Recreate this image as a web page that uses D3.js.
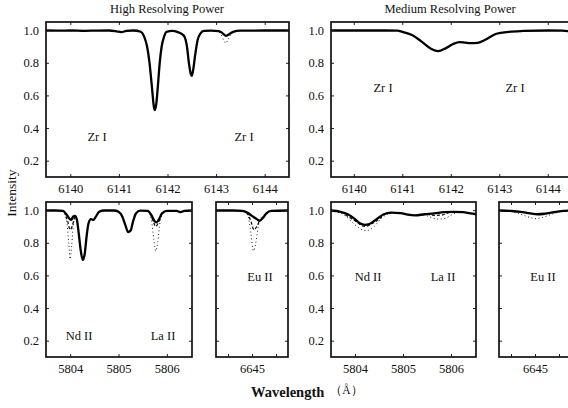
<!DOCTYPE html>
<html>
<head>
<meta charset="utf-8">
<script src="https://cdn.jsdelivr.net/npm/d3@7"></script>
<style>
  body { margin: 0; background: #fff; }
  svg text { font-family: "Liberation Serif", "DejaVu Serif", serif !important; fill: #111; }
</style>
</head>
<body>
<div id="chart"></div>
<script>
// ---- data ----
// Zr I region, high resolving power
const hiZrWave = [6139.5, 6139.8, 6140.0, 6140.3, 6140.5, 6140.8, 6140.95, 6141.05, 6141.15, 6141.3, 6141.45, 6141.52, 6141.58, 6141.63, 6141.68, 6141.72, 6141.74, 6141.77, 6141.8, 6141.84, 6141.88, 6141.93, 6141.98, 6142.1, 6142.2, 6142.3, 6142.35, 6142.4, 6142.44, 6142.48, 6142.5, 6142.53, 6142.57, 6142.62, 6142.68, 6142.75, 6142.9, 6143.05, 6143.12, 6143.2, 6143.27, 6143.35, 6143.5, 6144.0, 6144.5];
const hiZrObs  = [0.998, 0.997, 0.998, 0.996, 0.997, 0.998, 0.993, 0.988, 0.995, 0.998, 0.99, 0.96, 0.9, 0.8, 0.65, 0.53, 0.51, 0.55, 0.65, 0.8, 0.9, 0.96, 0.99, 0.995, 0.99, 0.975, 0.96, 0.9, 0.8, 0.73, 0.72, 0.76, 0.85, 0.94, 0.98, 0.995, 0.997, 0.994, 0.985, 0.965, 0.975, 0.99, 0.997, 0.998, 0.998];
const hiZrDotWave = [6143.0, 6143.1, 6143.16, 6143.2, 6143.25, 6143.32, 6143.4];
const hiZrDot     = [0.997, 0.975, 0.935, 0.92, 0.945, 0.98, 0.997];

// Zr I region, medium resolving power
const medZrWave = [6139.5, 6140.5, 6140.9, 6141.0, 6141.2, 6141.4, 6141.6, 6141.74, 6141.9, 6142.05, 6142.18, 6142.3, 6142.4, 6142.55, 6142.7, 6142.94, 6143.2, 6143.5, 6144.0, 6144.3, 6144.5];
const medZrObs  = [0.998, 0.998, 0.997, 0.99, 0.97, 0.93, 0.885, 0.871, 0.89, 0.915, 0.927, 0.923, 0.92, 0.922, 0.94, 0.978, 0.99, 0.995, 0.998, 0.997, 0.99];

// Nd II / La II region, high resolving power
const hiNdWave = [5803.5, 5803.7, 5803.85, 5803.92, 5803.98, 5804.02, 5804.06, 5804.1, 5804.14, 5804.18, 5804.22, 5804.26, 5804.3, 5804.34, 5804.38, 5804.43, 5804.48, 5804.53, 5804.6, 5804.7, 5804.9, 5805.0, 5805.08, 5805.14, 5805.2, 5805.25, 5805.3, 5805.36, 5805.45, 5805.6, 5805.68, 5805.74, 5805.78, 5805.83, 5805.9, 5806.0, 5806.2, 5806.28, 5806.36, 5806.52];
const hiNdObs  = [0.998, 0.998, 0.995, 0.975, 0.95, 0.94, 0.96, 0.965, 0.94, 0.85, 0.75, 0.695, 0.73, 0.84, 0.92, 0.945, 0.94, 0.96, 0.99, 0.998, 0.998, 0.99, 0.96, 0.91, 0.865, 0.875, 0.93, 0.98, 0.997, 0.995, 0.97, 0.935, 0.925, 0.94, 0.98, 0.995, 0.995, 0.988, 0.995, 0.998];
const hiNdDotWave = [5803.85, 5803.92, 5803.97, 5804.0, 5804.03, 5804.07, 5804.12];
const hiNdDot     = [0.995, 0.95, 0.8, 0.7, 0.78, 0.92, 0.965];
const hiLaDotWave = [5805.6, 5805.68, 5805.73, 5805.77, 5805.81, 5805.86, 5805.93];
const hiLaDot     = [0.995, 0.94, 0.82, 0.75, 0.8, 0.93, 0.985];
const hiNdDashWave = [5803.88, 5803.95, 5804.0, 5804.04, 5804.09];
const hiNdDash     = [0.99, 0.93, 0.88, 0.9, 0.96];
const hiLaDashWave = [5805.66, 5805.72, 5805.77, 5805.82, 5805.88];
const hiLaDash     = [0.98, 0.93, 0.9, 0.92, 0.97];

// Nd II / La II region, medium resolving power
const medNdWave = [5803.5, 5803.7, 5803.85, 5804.0, 5804.1, 5804.2, 5804.3, 5804.45, 5804.6, 5804.75, 5804.95, 5805.1, 5805.25, 5805.45, 5805.65, 5805.85, 5806.05, 5806.25, 5806.4, 5806.52];
const medNdObs  = [0.998, 0.99, 0.975, 0.945, 0.92, 0.91, 0.915, 0.945, 0.975, 0.985, 0.982, 0.972, 0.968, 0.975, 0.98, 0.988, 0.99, 0.988, 0.98, 0.975];
const medNdDotWave = [5803.5, 5803.6, 5803.8, 5804.0, 5804.15, 5804.25, 5804.4, 5804.55, 5804.7, 5804.85];
const medNdDot     = [0.998, 0.993, 0.965, 0.91, 0.88, 0.875, 0.9, 0.95, 0.978, 0.985];
const medLaDotWave = [5805.35, 5805.5, 5805.62, 5805.75, 5805.88, 5806.0, 5806.15];
const medLaDot     = [0.975, 0.965, 0.952, 0.945, 0.95, 0.97, 0.987];
const medNdDashWave = [5803.8, 5804.0, 5804.2, 5804.4, 5804.6];
const medNdDash     = [0.972, 0.935, 0.9, 0.925, 0.97];
const medLaDashWave = [5805.5, 5805.65, 5805.8, 5805.95];
const medLaDash     = [0.975, 0.968, 0.97, 0.985];

// Eu II region
const hiEuWave = [6644.25, 6644.6, 6644.8, 6644.9, 6645.0, 6645.1, 6645.16, 6645.22, 6645.3, 6645.4, 6645.75];
const hiEuObs  = [0.998, 0.998, 0.995, 0.985, 0.965, 0.945, 0.935, 0.95, 0.98, 0.995, 0.998];
const hiEuDotWave = [6644.85, 6644.93, 6644.98, 6645.03, 6645.08, 6645.13, 6645.2];
const hiEuDot     = [0.995, 0.95, 0.85, 0.75, 0.8, 0.9, 0.96];
const hiEuDashWave = [6644.9, 6644.98, 6645.04, 6645.1, 6645.16];
const hiEuDash     = [0.985, 0.93, 0.88, 0.9, 0.94];
const medEuWave = [6644.25, 6644.5, 6644.7, 6644.9, 6645.05, 6645.2, 6645.4, 6645.6, 6645.75];
const medEuObs  = [0.998, 0.995, 0.99, 0.98, 0.975, 0.978, 0.988, 0.995, 0.998];
const medEuDotWave = [6644.5, 6644.7, 6644.9, 6645.0, 6645.15, 6645.35, 6645.55];
const medEuDot     = [0.995, 0.975, 0.955, 0.948, 0.955, 0.975, 0.993];

const yTicks = [0.2, 0.4, 0.6, 0.8, 1.0];
const zrTicks = [6140, 6141, 6142, 6143, 6144];
const ndTicks = [5804, 5805, 5806];
const euTicks = [6644.5, 6645, 6645.5];
const euLabelTicks = [6645];

const titles = ["High Resolving Power", "Medium Resolving Power"];

const SERIF = '"Liberation Serif", "DejaVu Serif", serif';
const FS = 12.5;
const W = 568, H = 408;
const svg = d3.select("#chart").append("svg").attr("width", W).attr("height", H);

function toPts(xs, ys) { return xs.map((x, i) => [x, ys[i]]); }

let clipId = 0;
function drawPanel(p) {
    const x = d3.scaleLinear().domain(p.xDomain).range([p.left, p.left + p.w]);
    const y = d3.scaleLinear().domain([0.1, 1.05]).range([p.top + 155, p.top]);
    const g = svg.append("g");

    const id = "clip" + (clipId++);
    svg.append("clipPath").attr("id", id).append("rect")
      .attr("x", p.left).attr("y", p.top).attr("width", p.w).attr("height", 155);

    const line = d3.line().x(d => x(d[0])).y(d => y(d[1])).curve(d3.curveMonotoneX);
    const cg = g.append("g").attr("clip-path", `url(#${id})`);
    (p.dots || []).forEach(s => {
        cg.append("path").attr("d", line(s)).attr("fill", "none")
          .attr("stroke", "#222").attr("stroke-width", 1).attr("stroke-dasharray", "1,2.6");
    });
    (p.dashes || []).forEach(s => {
        cg.append("path").attr("d", line(s)).attr("fill", "none")
          .attr("stroke", "#111").attr("stroke-width", 1.3).attr("stroke-dasharray", "3,2");
    });
    cg.append("path").attr("d", line(p.obs)).attr("fill", "none")
      .attr("stroke", "#000").attr("stroke-width", 2.3).attr("stroke-linejoin", "round");

    // inward ticks on all four sides
    const xb = d3.axisBottom(x).tickValues(p.xTicks).tickSize(-3).tickPadding(7)
      .tickFormat(d => (p.xLabels || p.xTicks).includes(d) ? d3.format("d")(d) : "");
    g.append("g").attr("transform", `translate(0,${p.top + 155})`).call(xb);
    g.append("g").attr("transform", `translate(0,${p.top})`)
      .call(d3.axisTop(x).tickValues(p.xTicks).tickSize(-3).tickFormat(""));
    const yl = d3.axisLeft(y).tickValues(yTicks).tickSize(-3).tickPadding(7)
      .tickFormat(p.yLabels ? d3.format(".1f") : "");
    g.append("g").attr("transform", `translate(${p.left},0)`).call(yl);
    g.append("g").attr("transform", `translate(${p.left + p.w},0)`)
      .call(d3.axisRight(y).tickValues(yTicks).tickSize(-3).tickFormat(""));
    g.selectAll(".domain").remove();
    g.selectAll("g").attr("font-family", SERIF);
    g.selectAll(".tick line").attr("stroke", "#222");
    g.selectAll(".tick text").attr("font-size", FS).style("font-family", SERIF).attr("fill", "#111");

    g.append("rect").attr("x", p.left).attr("y", p.top).attr("width", p.w).attr("height", 155)
      .attr("fill", "none").attr("stroke", "#111").attr("stroke-width", 1.7);

    (p.labels || []).forEach(l => {
        g.append("text").attr("x", l[0]).attr("y", l[1]).attr("text-anchor", "middle")
          .attr("font-size", FS).style("font-family", SERIF).text(l[2]);
    });
}

drawPanel({ left: 46, top: 22, w: 243, xDomain: [6139.5, 6144.5], xTicks: zrTicks, yLabels: true,
    obs: toPts(hiZrWave, hiZrObs), dots: [toPts(hiZrDotWave, hiZrDot)],
    labels: [[97, 141, "Zr I"], [244, 141, "Zr I"]] });
drawPanel({ left: 331, top: 22, w: 241, xDomain: [6139.53, 6144.5], xTicks: zrTicks, yLabels: true,
    obs: toPts(medZrWave, medZrObs),
    labels: [[383, 92, "Zr I"], [515, 92, "Zr I"]] });
drawPanel({ left: 46, top: 202, w: 146, xDomain: [5803.5, 5806.52], xTicks: ndTicks, yLabels: true,
    obs: toPts(hiNdWave, hiNdObs),
    dots: [toPts(hiNdDotWave, hiNdDot), toPts(hiLaDotWave, hiLaDot)],
    dashes: [toPts(hiNdDashWave, hiNdDash), toPts(hiLaDashWave, hiLaDash)],
    labels: [[79, 340, "Nd II"], [163, 340, "La II"]] });
drawPanel({ left: 216, top: 202, w: 72, xDomain: [6644.25, 6645.75], xTicks: euTicks, xLabels: euLabelTicks,
    obs: toPts(hiEuWave, hiEuObs), dots: [toPts(hiEuDotWave, hiEuDot)], dashes: [toPts(hiEuDashWave, hiEuDash)],
    labels: [[260, 281, "Eu II"]] });
drawPanel({ left: 331, top: 202, w: 145, xDomain: [5803.5, 5806.52], xTicks: ndTicks, yLabels: true,
    obs: toPts(medNdWave, medNdObs),
    dots: [toPts(medNdDotWave, medNdDot), toPts(medLaDotWave, medLaDot)],
    dashes: [toPts(medNdDashWave, medNdDash), toPts(medLaDashWave, medLaDash)],
    labels: [[368, 281, "Nd II"], [443, 281, "La II"]] });
drawPanel({ left: 499, top: 202, w: 72, xDomain: [6644.25, 6645.75], xTicks: euTicks, xLabels: euLabelTicks,
    obs: toPts(medEuWave, medEuObs), dots: [toPts(medEuDotWave, medEuDot)],
    labels: [[543, 281, "Eu II"]] });

// titles and axis names
svg.append("text").attr("x", 167).attr("y", 13).attr("text-anchor", "middle").attr("font-size", FS)
  .style("font-family", SERIF).text(titles[0]);
svg.append("text").attr("x", 450).attr("y", 13).attr("text-anchor", "middle").attr("font-size", FS)
  .style("font-family", SERIF).text(titles[1]);
svg.append("text").attr("transform", "translate(16,193) rotate(-90)").attr("text-anchor", "middle")
  .attr("font-size", 13.5).style("font-family", SERIF).text("Intensity");
const xt = svg.append("text").attr("x", 251).attr("y", 397).attr("font-size", 14.5).style("font-family", SERIF);
xt.append("tspan").attr("font-weight", "bold").text("Wavelength");
xt.append("tspan").attr("dx", 6).attr("dy", -3).attr("font-size", 11.5).text("（Å）");
</script>
</body>
</html>
